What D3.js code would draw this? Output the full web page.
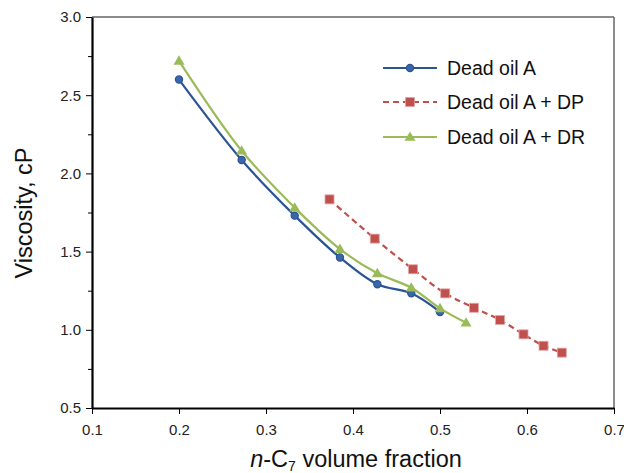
<!DOCTYPE html>
<html>
<head>
<meta charset="utf-8">
<script src="https://cdn.jsdelivr.net/npm/d3@7"></script>
<style>
body { margin: 0; background: white; }
text { font-family: Arial, "Liberation Sans", sans-serif; }
</style>
</head>
<body>
<script>
// values
var oilA_x = [0.200, 0.272, 0.333, 0.385, 0.428, 0.467, 0.500]
var oilA_y = [2.60, 2.086, 1.730, 1.462, 1.291, 1.233, 1.114]

var oilDP_x = [0.373, 0.425, 0.469, 0.506, 0.539, 0.569, 0.596, 0.619, 0.640]
var oilDP_y = [1.834, 1.583, 1.387, 1.233, 1.141, 1.063, 0.971, 0.898, 0.854]

var oilDR_x = [0.200, 0.272, 0.333, 0.385, 0.428, 0.467, 0.500, 0.530]
var oilDR_y = [2.72, 2.145, 1.781, 1.516, 1.361, 1.269, 1.137, 1.045]

var xTicks = [0.1, 0.2, 0.3, 0.4, 0.5, 0.6, 0.7]
var yTicks = [0.5, 1.0, 1.5, 2.0, 2.5, 3.0]
var yMinor = [0.75, 1.25, 1.75, 2.25, 2.75]

var seriesNames = ["Dead oil A", "Dead oil A + DP", "Dead oil A + DR"]

function zip(xs, ys) {
	var pts = []
	for (var i = 0; i < xs.length; i++) pts.push([xs[i], ys[i]])
	return pts
}

var series = [
	{name: seriesNames[0], pts: zip(oilA_x, oilA_y), color: "#2B5494", fill: "#3A67AA", marker: "circle", dash: null},
	{name: seriesNames[1], pts: zip(oilDP_x, oilDP_y), color: "#C0504D", fill: "#C0504D", marker: "square", dash: "6,4"},
	{name: seriesNames[2], pts: zip(oilDR_x, oilDR_y), color: "#9BBB59", fill: "#9BBB59", marker: "triangle", dash: null}
]

var W = 624, H = 473
// plot box (don't call these "top" — clashes with window.top)
var plotLeft = 92, plotRight = 614, plotTop = 17, plotBottom = 408

var svg = d3.select("body").append("svg").attr("width", W).attr("height", H)

var x = d3.scaleLinear().domain([0.1, 0.7]).range([plotLeft, plotRight])
var y = d3.scaleLinear().domain([0.5, 3.0]).range([plotBottom, plotTop])

// frame top / right
svg.append("line").attr("x1", plotLeft).attr("x2", plotRight).attr("y1", plotTop).attr("y2", plotTop)
	.attr("stroke", "#666").attr("stroke-width", 1.5)
svg.append("line").attr("x1", plotRight).attr("x2", plotRight).attr("y1", plotTop).attr("y2", plotBottom)
	.attr("stroke", "#666").attr("stroke-width", 1.5)

// minor y ticks
svg.append("g").attr("transform", "translate(" + plotLeft + ",0)")
	.call(d3.axisLeft(y).tickValues(yMinor).tickSize(4).tickFormat(""))
	.call(function(g) { g.select(".domain").remove() })
	.selectAll("line").attr("stroke", "#000").attr("stroke-width", 1)

var yAxis = svg.append("g").attr("transform", "translate(" + plotLeft + ",0)")
	.call(d3.axisLeft(y).tickValues(yTicks).tickSize(6).tickSizeOuter(0).tickPadding(5).tickFormat(d3.format(".1f")))
var xAxis = svg.append("g").attr("transform", "translate(0," + plotBottom + ")")
	.call(d3.axisBottom(x).tickValues(xTicks).tickSize(6).tickSizeOuter(0).tickPadding(10).tickFormat(d3.format(".1f")))

;[xAxis, yAxis].forEach(function(a) {
	a.select(".domain").attr("stroke", "#000").attr("stroke-width", 2.2)
	a.selectAll(".tick line").attr("stroke", "#000").attr("stroke-width", 1)
	a.selectAll("text").style("font-size", "15px").attr("fill", "#222")
		.style("font-family", "Arial, 'Liberation Sans', sans-serif")
})

// axis titles
var xt = svg.append("text").attr("x", (plotLeft + plotRight) / 2 + 3).attr("y", 467)
	.attr("text-anchor", "middle").style("font-size", "23.5px").attr("fill", "#111")
xt.append("tspan").attr("font-style", "italic").text("n")
xt.append("tspan").text("-C")
xt.append("tspan").style("font-size", "14px").attr("dy", 4).text("7")
xt.append("tspan").attr("dy", -4).text(" volume fraction")

svg.append("text").attr("transform", "translate(32,213) rotate(-90)")
	.attr("text-anchor", "middle").style("font-size", "23.5px").attr("fill", "#111")
	.text("Viscosity, cP")

var line = d3.line().x(function(d) { return x(d[0]) }).y(function(d) { return y(d[1]) })
	.curve(d3.curveCatmullRom.alpha(0.5))

function drawMarker(g, type, cx, cy, s) {
	if (type == "circle") {
		g.append("circle").attr("cx", cx).attr("cy", cy).attr("r", 3.6)
			.attr("fill", s.fill).attr("stroke", s.color).attr("stroke-width", 1.2)
	} else if (type == "square") {
		g.append("rect").attr("x", cx - 4.5).attr("y", cy - 4.5).attr("width", 9).attr("height", 9)
			.attr("fill", s.fill).attr("stroke", "#E3A5A3").attr("stroke-width", 0.8)
	} else {
		var r = 5.5
		g.append("path").attr("d", "M" + cx + "," + (cy - r) + "L" + (cx + r) + "," + (cy + r * 0.7) + "L" + (cx - r) + "," + (cy + r * 0.7) + "Z")
			.attr("fill", s.fill)
	}
}

series.forEach(function(s) {
	var g = svg.append("g")
	g.append("path").datum(s.pts).attr("d", line).attr("fill", "none")
		.attr("stroke", s.color).attr("stroke-width", 2.2)
		.attr("stroke-dasharray", s.dash)
	s.pts.forEach(function(p) { drawMarker(g, s.marker, x(p[0]), y(p[1]), s) })
})

// legend
var legendY = [68, 102, 137]
series.forEach(function(s, i) {
	var g = svg.append("g")
	g.append("line").attr("x1", 383).attr("x2", 437).attr("y1", legendY[i]).attr("y2", legendY[i])
		.attr("stroke", s.color).attr("stroke-width", 2).attr("stroke-dasharray", s.dash)
	drawMarker(g, s.marker, 410, legendY[i], s)
	g.append("text").attr("x", 447).attr("y", legendY[i] + 7).style("font-size", "19.5px").attr("fill", "#111")
		.text(s.name)
})
</script>
</body>
</html>
